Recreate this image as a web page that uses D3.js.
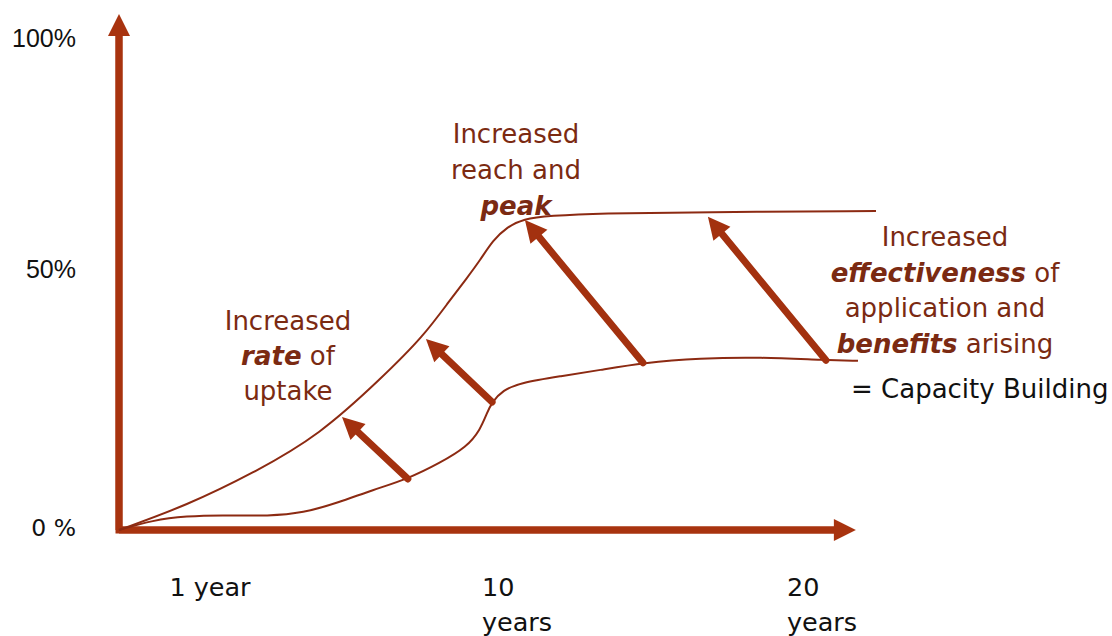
<!DOCTYPE html>
<html>
<head>
<meta charset="utf-8">
<script src="https://cdn.jsdelivr.net/npm/d3@7"></script>
<style>
  html, body { margin: 0; padding: 0; background: #fff; }
  svg { display: block; }
</style>
</head>
<body>
<svg id="chart" width="1112" height="636"></svg>
<script>
// Time axis ticks (schematic, compressed after the first year)
const yearTicks = [1, 10, 20];
const yearLabels = ["1 year", "10\nyears", "20\nyears"];

// Uptake axis ticks
const pctTicks = [0, 50, 100];
const pctLabels = ["0 %", "50%", "100%"];

// Baseline adoption curve: [years, % uptake]
const baseYears = [0, 0.37, 0.75, 1.29, 2.76, 3.73, 4.72, 5.78, 6.80, 7.74, 8.53, 8.92, 9.12, 9.27, 9.59, 10.10, 11.41, 12.72, 14.13, 16.0, 17.97, 20.13, 21.18];
const baseUptake = [0, 1.9, 2.7, 2.9, 2.7, 3.3, 5.2, 7.8, 9.9, 13.0, 16.1, 19.4, 22.7, 24.8, 27.1, 28.5, 29.8, 31.0, 32.4, 33.3, 33.5, 32.9, 32.8];

// Improved adoption curve after capacity building
const improvedYears = [0, 0.75, 2.26, 4.22, 6.07, 7.24, 8.04, 8.53, 8.92, 9.30, 9.71, 10.2, 11.08, 12.72, 16.0, 21.77];
const improvedUptake = [0, 4.8, 11.0, 18.4, 29.7, 37.4, 44.6, 48.8, 52.3, 56.2, 58.7, 60.3, 60.9, 61.4, 61.6, 61.8];

// Shift arrows from baseline curve to improved curve
const shiftFromYears = [6.80, 9.27, 14.13, 20.13];
const shiftFromUptake = [9.9, 24.8, 32.4, 32.9];
const shiftToYears = [4.87, 7.33, 10.26, 16.26];
const shiftToUptake = [21.9, 37.0, 60.1, 60.7];

// Axis extent
const yearMax = 21.11;
const pctMax = 100;

const svg = d3.select("#chart");

const x = d3.scaleLinear().domain([0, 1, 10, 20]).range([119, 210, 517, 822]);
const y = d3.scaleLinear().domain([0, 100]).range([530, 14]);

const axisColor = "#a8330f";
const curveColor = "#8c2a12";
const arrowColor = "#a3310f";
const textColor = "#7b2a12";
const font = "'DejaVu Sans', sans-serif";

// Filled arrow: shaft plus triangular head
function arrow(g, x0, y0, x1, y1, width, headLen, headHalf, color, dot) {
  const dx = x1 - x0, dy = y1 - y0;
  const len = Math.hypot(dx, dy);
  const ux = dx / len, uy = dy / len;
  const bx = x1 - ux * headLen, by = y1 - uy * headLen;
  g.append("line")
    .attr("x1", x0).attr("y1", y0).attr("x2", bx + ux * 2).attr("y2", by + uy * 2)
    .attr("stroke", color).attr("stroke-width", width)
    .attr("stroke-linecap", dot ? "round" : "butt");
  g.append("path")
    .attr("d", `M${x1},${y1} L${bx - uy * headHalf},${by + ux * headHalf} L${bx + uy * headHalf},${by - ux * headHalf} Z`)
    .attr("fill", color);
}

// Axes
const axes = svg.append("g");
axes.append("path")
  .attr("d", `M${x(0)},${y(0)} L${x(0)},${y(pctMax) + 20} M${x(0) - 3.5},${y(0)} L${x(yearMax) - 20},${y(0)}`)
  .attr("stroke", axisColor).attr("stroke-width", 7).attr("fill", "none");
arrow(axes, x(0), y(0), x(0), y(pctMax), 7, 22, 11, axisColor, false);
arrow(axes, x(0), y(0), x(yearMax), y(0), 7, 22, 11, axisColor, false);

// Uptake tick labels
svg.append("g").selectAll("text")
  .data(pctTicks)
  .join("text")
  .attr("x", 76)
  .attr("y", (d, i) => y(d) + (d === pctMax ? 33 : 6))
  .attr("text-anchor", "end")
  .attr("font-family", (d, i) => i === 0 ? font : "'Liberation Sans', Arial, sans-serif")
  .attr("font-size", (d, i) => i === 0 ? 23.5 : 25)
  .attr("fill", "#111")
  .text((d, i) => pctLabels[i]);

// Time tick labels: multi-line blocks, left-aligned and centred on the tick
const yearG = svg.append("g");
yearTicks.forEach((t, i) => {
  const lines = yearLabels[i].split("\n");
  const txt = yearG.append("text")
    .attr("font-family", font).attr("font-size", 25.5).attr("fill", "#111");
  lines.forEach((ln, j) => {
    txt.append("tspan").attr("x", 0).attr("y", 596 + j * 35).text(ln);
  });
  let w = 0;
  txt.selectAll("tspan").each(function () { w = Math.max(w, this.getComputedTextLength()); });
  txt.attr("transform", `translate(${x(t) - w / 2},0)`);
});

// Adoption curves (smoothed B-spline through the sampled points)
const line = d3.line().x(d => x(d[0])).y(d => y(d[1])).curve(d3.curveBasis);
const baseData = baseYears.map((v, i) => [v, baseUptake[i]]);
const improvedData = improvedYears.map((v, i) => [v, improvedUptake[i]]);

svg.append("path").datum(baseData).attr("d", line)
  .attr("fill", "none").attr("stroke", curveColor).attr("stroke-width", 2);
svg.append("path").datum(improvedData).attr("d", line)
  .attr("fill", "none").attr("stroke", curveColor).attr("stroke-width", 2);

// Shift arrows
const shiftG = svg.append("g");
shiftFromYears.forEach((v, i) => {
  arrow(shiftG, x(v), y(shiftFromUptake[i]), x(shiftToYears[i]), y(shiftToUptake[i]), 7, 22, 11, arrowColor, true);
});

// Annotation text blocks: each line is a list of [text, emphasised]
function block(cx, y0, lh, lines, anchor) {
  const g = svg.append("g");
  lines.forEach((parts, j) => {
    const t = g.append("text")
      .attr("x", cx).attr("y", y0 + j * lh)
      .attr("text-anchor", anchor || "middle")
      .attr("font-family", font).attr("font-size", 26).attr("fill", textColor);
    parts.forEach(p => {
      const s = t.append("tspan").text(p[0]);
      if (p[1]) s.attr("font-weight", "bold").attr("font-style", "italic");
    });
  });
  return g;
}

block(516, 143, 36, [[["Increased", false]], [["reach and", false]], [["peak", true]]]);
block(288, 330, 35, [[["Increased", false]], [["rate", true], [" of", false]], [["uptake", false]]]);
block(945, 246, 35.5, [
  [["Increased", false]],
  [["effectiveness", true], [" of", false]],
  [["application and", false]],
  [["benefits", true], [" arising", false]]
]);

svg.append("text")
  .attr("x", 851).attr("y", 398)
  .attr("font-family", font).attr("font-size", 26).attr("fill", "#111")
  .text("= Capacity Building");
</script>
</body>
</html>
